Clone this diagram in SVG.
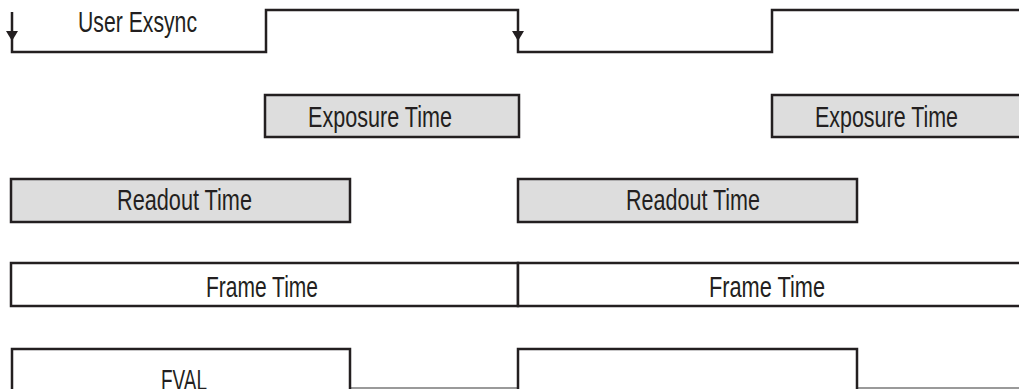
<svg xmlns="http://www.w3.org/2000/svg" width="1019" height="389" viewBox="0 0 1019 389">
<style>
.ln{fill:none;stroke:#231f20;stroke-width:2.5}
.lo{fill:none;stroke:#9a9a9a;stroke-width:2}
.bx{fill:#dddddd;stroke:#231f20;stroke-width:2.5}
.wb{fill:#ffffff;stroke:#231f20;stroke-width:2.5}
.t{font-family:"Liberation Sans Narrow","Liberation Sans",Arial,sans-serif;font-size:29px;fill:#231f20}
</style>
<defs>
<polygon id="ah" points="-6,0 6,0 0,10" fill="#231f20"/>
</defs>
<rect width="1019" height="389" fill="#ffffff"/>
<g id="connectors">
<path class="ln" d="M12,12 V52 H266 V10 H518 V52 H772 V10 H1020"/>
<use href="#ah" x="12" y="31"/>
<use href="#ah" x="518" y="31"/>
</g>
<g id="user-exsync">
<text class="t" x="78" y="32" textLength="119" lengthAdjust="spacingAndGlyphs">User Exsync</text>
</g>
<g id="exposure-1">
<rect class="bx" x="265" y="95" width="254" height="42"/>
<text class="t" x="308" y="127" textLength="144" lengthAdjust="spacingAndGlyphs">Exposure Time</text>
</g>
<g id="exposure-2">
<rect class="bx" x="772" y="95" width="260" height="42"/>
<text class="t" x="815" y="127" textLength="143" lengthAdjust="spacingAndGlyphs">Exposure Time</text>
</g>
<g id="readout-1">
<rect class="bx" x="11" y="179" width="339" height="43"/>
<text class="t" x="117" y="210" textLength="135" lengthAdjust="spacingAndGlyphs">Readout Time</text>
</g>
<g id="readout-2">
<rect class="bx" x="518" y="179" width="339" height="43"/>
<text class="t" x="626" y="210" textLength="134" lengthAdjust="spacingAndGlyphs">Readout Time</text>
</g>
<g id="frame-1">
<rect class="wb" x="11" y="263" width="507" height="43"/>
<text class="t" x="206" y="297" textLength="112" lengthAdjust="spacingAndGlyphs">Frame Time</text>
</g>
<g id="frame-2">
<rect class="wb" x="518" y="263" width="520" height="43"/>
<text class="t" x="709" y="297" textLength="116" lengthAdjust="spacingAndGlyphs">Frame Time</text>
</g>
<g id="fval">
<path class="lo" d="M350,388 H518 M857,388 H1019"/>
<path class="ln" d="M12,392 V349 H350 V392 M518,392 V349 H857 V392"/>
<text class="t" x="161" y="390" textLength="46" lengthAdjust="spacingAndGlyphs">FVAL</text>
</g>
</svg>
